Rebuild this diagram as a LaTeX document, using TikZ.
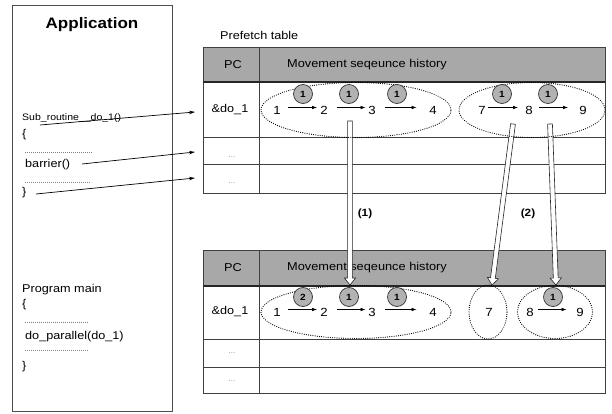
\documentclass[tikz,border=0pt]{standalone}
\usepackage{fontspec}
\setmainfont{Liberation Sans}[FakeStretch=1.12]
\usetikzlibrary{arrows.meta,calc,shapes.geometric}
\newcommand{\hollowarr}[2]{%
  \coordinate (hb) at ($(#2)!7pt!(#1)$);
  \draw[fill=white, draw=black!85, line width=0.6pt, line join=miter]
    ($(#1)!2.4pt!90:(#2)$) -- ($(hb)!2.4pt!-90:(#1)$) -- ($(hb)!5.6pt!-90:(#1)$)
    -- (#2) -- ($(hb)!5.6pt!90:(#1)$) -- ($(hb)!2.4pt!90:(#1)$)
    -- ($(#1)!2.4pt!-90:(#2)$) -- cycle;}
\begin{document}
\begin{tikzpicture}[x=1pt,y=-1pt,
  txt/.style={inner sep=0pt, font=\fontsize{11.3}{13}\selectfont},
  lt/.style={txt, anchor=west},
  ttl/.style={inner sep=0pt, font=\bfseries\fontsize{15.2}{17}\selectfont},
  hdr/.style={inner sep=0pt, font=\fontsize{11.4}{13}\selectfont},
  dig/.style={inner sep=0pt, font=\fontsize{11.8}{13}\selectfont},
  ell/.style={ellipse, draw=black, line width=1.2pt, dash pattern=on 0pt off 2.2pt, line cap=round, inner sep=0pt},
  cnt/.style={circle, draw=black!80, line width=0.7pt, fill=gray!60, minimum size=19pt, inner sep=0pt, font=\bfseries\fontsize{9}{9}\selectfont},
  seq/.style={line width=0.7pt, -{Latex[length=5pt,width=3.5pt]}},
  ptr/.style={line width=0.7pt, -{Stealth[length=6pt,width=3.5pt]}},
  dotl/.style={gray, line width=0.6pt, dash pattern=on 0.7pt off 1.3pt},
  grid/.style={draw=black!75, line width=0.7pt},
  thick grid/.style={draw=black!85, line width=1.3pt},
  small dots/.style={inner sep=0pt, text=gray, font=\fontsize{7}{7}\selectfont},
  lbl/.style={inner sep=0pt, font=\bfseries\fontsize{10.5}{12}\selectfont}
]
\useasboundingbox (0,0) rectangle (612,414);
\fill[white] (0,0) rectangle (612,414);

% ---------- Application box ----------
\draw[draw=black!70, line width=0.7pt] (12,5) rectangle (172,411);
\node[ttl] (app) at (92,25) {Application};
\node[lt, font=\fontsize{9.4}{11}\selectfont] (sub) at (22,118) {Sub\_routine\_\_do\_1()};
\node[lt] (ob1) at (22,135) {\{};
\draw[dotl] (25,152) -- (93,152);
\node[lt] (bar) at (25,165) {barrier()};
\draw[dotl] (25,182) -- (91,182);
\node[lt] (cb1) at (22,193) {\}};
\node[lt] (pm) at (22,290) {Program main};
\node[lt] (ob2) at (22,305) {\{};
\draw[dotl] (25,322) -- (88,322);
\node[lt] (dop) at (25,337) {do\_parallel(do\_1)};
\draw[dotl] (25,350) -- (88,350);
\node[lt] (cb2) at (22,367) {\}};

% ---------- top table ----------
\node[lt] (pt) at (220,35) {Prefetch table};
\fill[gray!68] (203,47) rectangle (605,82);
\draw[grid] (203,47) rectangle (605,193);
\draw[grid] (203,137) -- (605,137);
\draw[grid] (203,164) -- (605,164);
\draw[grid] (259,47) -- (259,193);
\draw[thick grid] (203,82) -- (605,82);
\node[hdr] (pc1) at (233,65) {PC};
\node[hdr, anchor=west] (msh1) at (287,65) {Movement seqeunce history};
\node[txt] (pa1) at (230,110) {\&do\_1};
\node[small dots] (da1) at (232,157) {...};
\node[small dots] (db1) at (232,183) {...};

\node[dig] (t1) at (277,110) {1};
\node[dig] (t2) at (324,110) {2};
\node[dig] (t3) at (372,110) {3};
\node[dig] (t4) at (433,110) {4};
\node[dig] (t7) at (482,110) {7};
\node[dig] (t8) at (529,110) {8};
\node[dig] (t9) at (583,110) {9};
\draw[seq, shorten <=7pt, shorten >=3pt] ([yshift=2.5pt]t1.east) -- ([yshift=2.5pt]t2.west);
\draw[seq, shorten <=9pt, shorten >=2.5pt] ([yshift=2.5pt]t2.east) -- ([yshift=2.5pt]t3.west);
\draw[seq, shorten <=9.5pt, shorten >=12.5pt] ([yshift=2.5pt]t3.east) -- ([yshift=2.5pt]t4.west);
\draw[seq, shorten <=2.5pt, shorten >=7pt] ([yshift=2.5pt]t7.east) -- ([yshift=2.5pt]t8.west);
\draw[seq, shorten <=6.5pt, shorten >=11pt] ([yshift=2.5pt]t8.east) -- ([yshift=2.5pt]t9.west);

% ---------- bottom table ----------
\fill[gray!68] (203,250) rectangle (605,286);
\draw[grid] (203,250) rectangle (605,393);
\draw[grid] (203,339) -- (605,339);
\draw[grid] (203,367) -- (605,367);
\draw[grid] (259,250) -- (259,393);
\draw[thick grid] (203,286) -- (605,286);
\node[hdr] (pc2) at (233,268) {PC};
\node[hdr, anchor=west] (msh2) at (287,268) {Movement seqeunce history};
\node[txt] (pa2) at (230,312) {\&do\_1};
\node[small dots] (da2) at (232,353) {...};
\node[small dots] (db2) at (232,381) {...};

\node[dig] (b1) at (277,312) {1};
\node[dig] (b2) at (324,312) {2};
\node[dig] (b3) at (372,312) {3};
\node[dig] (b4) at (433,312) {4};
\node[dig] (b7) at (489,312) {7};
\node[dig] (b8) at (530,312) {8};
\node[dig] (b9) at (580,312) {9};
\draw[seq, shorten <=7pt, shorten >=3pt] ([yshift=2.5pt]b1.east) -- ([yshift=2.5pt]b2.west);
\draw[seq, shorten <=9pt, shorten >=2.5pt] ([yshift=2.5pt]b2.east) -- ([yshift=2.5pt]b3.west);
\draw[seq, shorten <=9.5pt, shorten >=12.5pt] ([yshift=2.5pt]b3.east) -- ([yshift=2.5pt]b4.west);
\draw[seq, shorten <=4.5pt, shorten >=9.5pt] ([yshift=2.5pt]b8.east) -- ([yshift=2.5pt]b9.west);

% ---------- hollow arrows ----------
\coordinate (s1) at (350,121); \coordinate (e1) at (350,285);
\coordinate (s2) at (513,124); \coordinate (e2) at (492,285);
\coordinate (s3) at (550,124); \coordinate (e3) at (556,285);
\hollowarr{s1}{e1}
\hollowarr{s2}{e2}
\hollowarr{s3}{e3}
\node[lbl] (l1) at (365,214) {(1)};
\node[lbl] (l2) at (528,214) {(2)};

% ---------- ellipses ----------
\node[ell, minimum width=190pt, minimum height=55pt] (te1) at (356,110) {};
\node[ell, minimum width=146pt, minimum height=55pt] (te2) at (532,110) {};
\node[ell, minimum width=190pt, minimum height=53pt] (be1) at (356,312) {};
\node[ell, minimum width=38pt, minimum height=54pt] (be2) at (488,312) {};
\node[ell, minimum width=75pt, minimum height=53pt] (be3) at (555,312) {};

% ---------- counters ----------
\node[cnt] (ct1) at (303,94) {1};
\node[cnt] (ct2) at (349,94) {1};
\node[cnt] (ct3) at (397,94) {1};
\node[cnt] (ct4) at (502,94) {1};
\node[cnt] (ct5) at (548,94) {1};
\node[cnt] (cb1c) at (303,297) {2};
\node[cnt] (cb2c) at (349,297) {1};
\node[cnt] (cb3c) at (397,297) {1};
\node[cnt] (cb4c) at (553,297) {1};

% ---------- pointers from code ----------
\coordinate (p1s) at (40,125); \coordinate (p1e) at (195,112);
\coordinate (p2s) at (82,164); \coordinate (p2e) at (195,152);
\coordinate (p3s) at (36,194); \coordinate (p3e) at (195,178);
\draw[ptr] (p1s) -- (p1e);
\draw[ptr] (p2s) -- (p2e);
\draw[ptr] (p3s) -- (p3e);
\end{tikzpicture}
\end{document}
